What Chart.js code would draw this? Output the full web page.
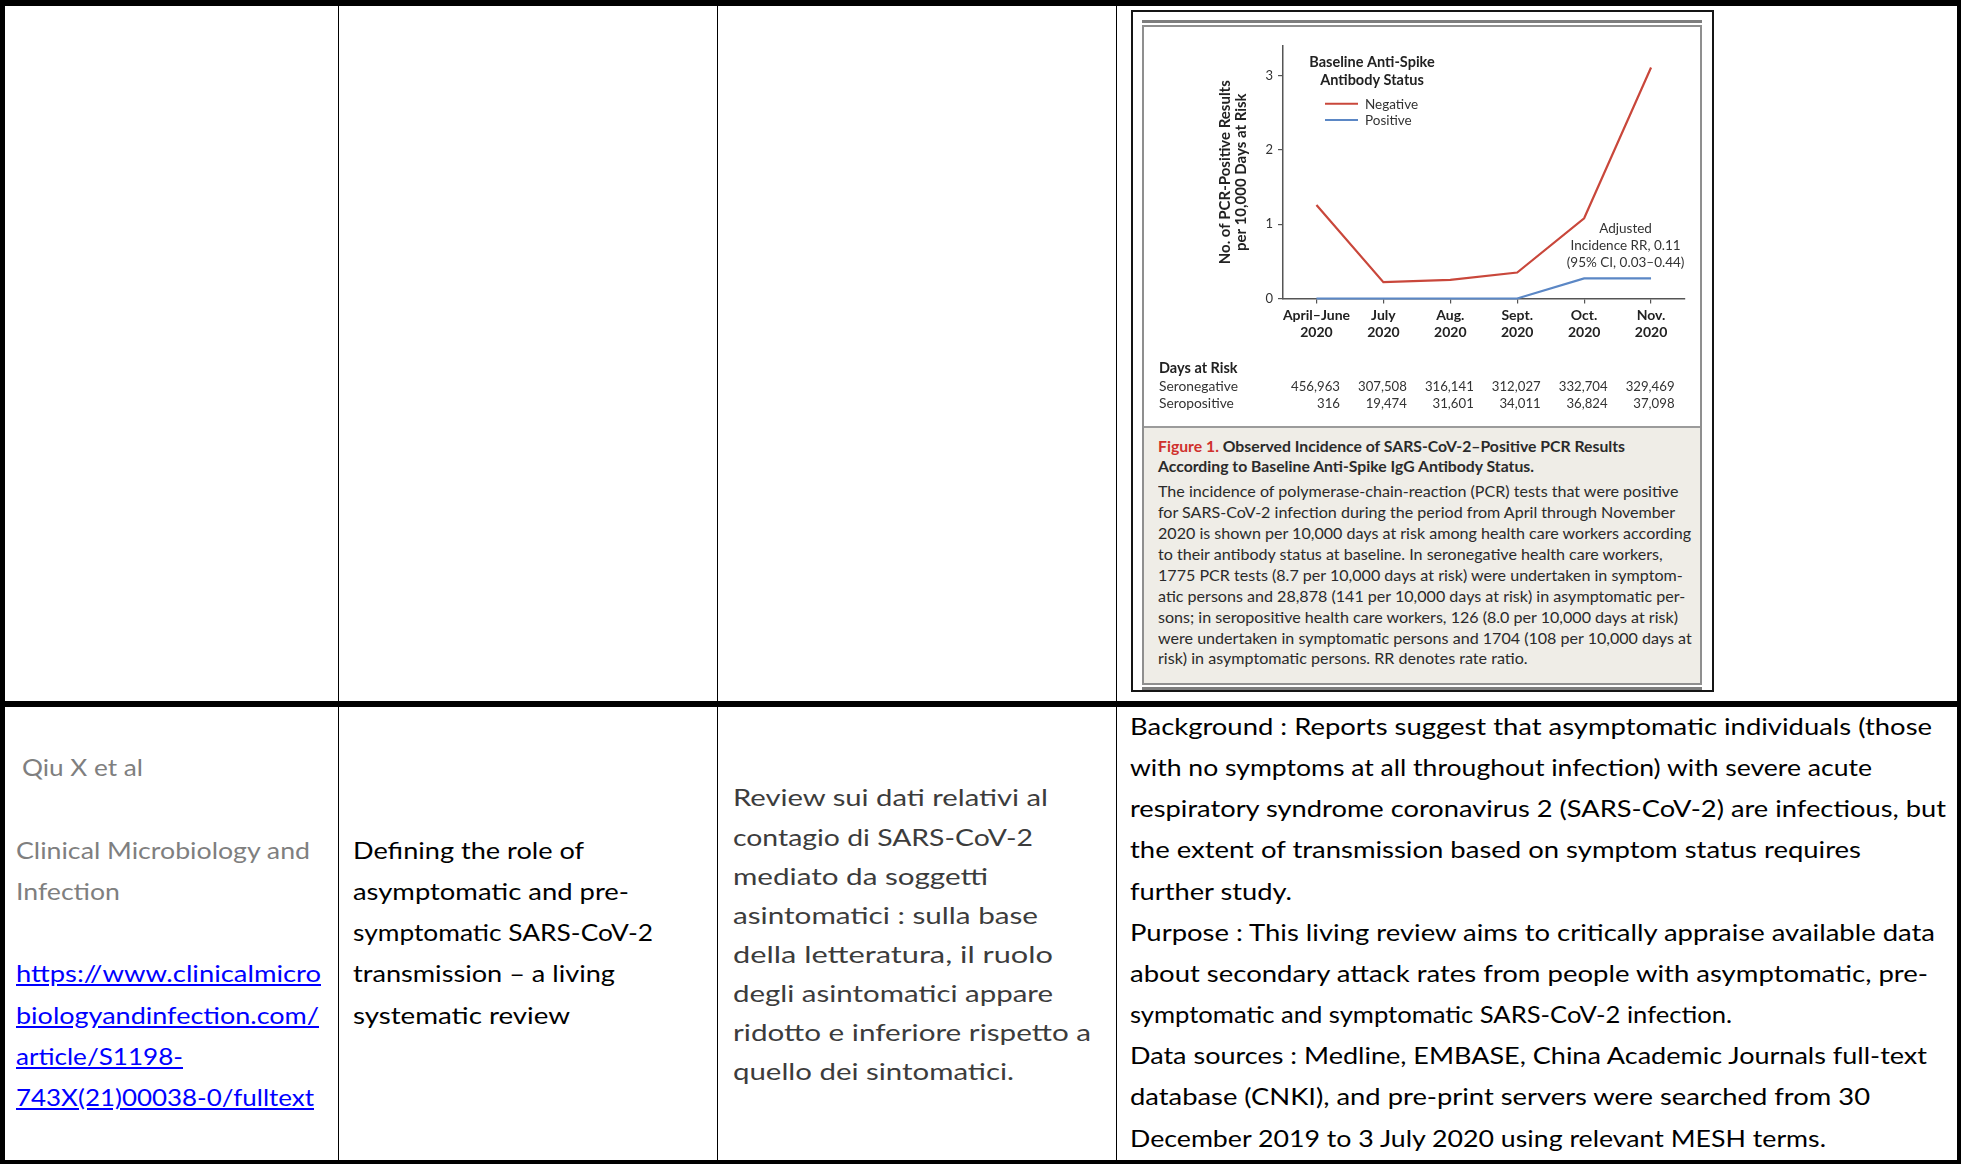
<!DOCTYPE html>
<html lang="en">
<head>
<meta charset="utf-8">
<title>Observed Incidence of SARS-CoV-2–Positive PCR Results</title>
<script src="https://cdn.jsdelivr.net/npm/chart.js@4.4.1/dist/chart.umd.min.js"></script>
<style>
  html, body { margin: 0; padding: 0; background: #fff; }
  body { position: relative; width: 1961px; height: 1164px; overflow: hidden; font-family: Lato, "Open Sans", sans-serif; }
  .bar { position: absolute; background: #000; }
  .ln { position: absolute; white-space: nowrap; }
  .ln > span { display: inline-block; transform-origin: 0 50%; }
  .tbl { font-size: 24px; }
  .cap { font-size: 15px; color: #2a2a2a; }
  #frame { position: absolute; left: 1131px; top: 10px; width: 583px; height: 682px; box-sizing: border-box; border: 2px solid #151515; }
  #topRule, #bottomRule { position: absolute; left: 1142px; width: 560px; background: #7d7d7d; }
  #topRule { top: 20px; height: 3px; }
  #bottomRule { top: 687px; height: 2.5px; }
  #panel { position: absolute; left: 1142px; top: 25px; width: 560px; height: 660px; box-sizing: border-box; border: 2px solid #8f8f8f; }
  #captionBg { position: absolute; left: 1144px; top: 426px; width: 556px; height: 257px; box-sizing: border-box; background: #efede7; border-top: 2px solid #9b9b9b; }
  #chart { position: absolute; left: 1144px; top: 27px; }
</style>
</head>
<body>

<!-- table grid -->
<div class="bar" style="left:0;top:0;width:1961px;height:6px"></div>
<div class="bar" style="left:0;top:0;width:5px;height:1164px"></div>
<div class="bar" style="left:1957px;top:0;width:4px;height:1164px"></div>
<div class="bar" style="left:0;top:1160px;width:1961px;height:4px"></div>
<div class="bar" style="left:0;top:701px;width:1961px;height:6px"></div>
<div class="bar" style="left:338px;top:0;width:1.3px;height:1164px"></div>
<div class="bar" style="left:717px;top:0;width:1.3px;height:1164px"></div>
<div class="bar" style="left:1116px;top:0;width:1.3px;height:1164px"></div>

<!-- figure panel -->
<div id="frame"></div>
<div id="topRule"></div>
<div id="panel"></div>
<div id="captionBg"></div>
<div id="bottomRule"></div>
<canvas id="chart" width="556" height="400"></canvas>

<script>
// ---- chart data ----
const months = [['April–June', '2020'], ['July', '2020'], ['Aug.', '2020'], ['Sept.', '2020'], ['Oct.', '2020'], ['Nov.', '2020']];
const negativeRate = [1.26, 0.22, 0.25, 0.35, 1.08, 3.11];
const positiveRate = [0, 0, 0, 0, 0.27, 0.27];
const seriesNames = ['Negative', 'Positive'];
const seronegativeDays = ['456,963', '307,508', '316,141', '312,027', '332,704', '329,469'];
const seropositiveDays = ['316', '19,474', '31,601', '34,011', '36,824', '37,098'];
const yTickValues = [0, 1, 2, 3];
const yAxisTitle = ['No. of PCR-Positive Results', 'per 10,000 Days at Risk'];
const legendTitle = ['Baseline Anti-Spike', 'Antibody Status'];
const rrNote = ['Adjusted', 'Incidence RR, 0.11', '(95% CI, 0.03–0.44)'];

const RED = '#c9473b';
const BLUE = '#5b87c5';
const INK = '#222';

// legend drawn inside the plot, upper left
const statusLegend = {
  id: 'statusLegend',
  afterDatasetsDraw(chart) {
    const { ctx, chartArea: a } = chart;
    ctx.save();
    ctx.fillStyle = INK;
    ctx.textAlign = 'center';
    ctx.textBaseline = 'middle';
    ctx.font = 'bold 14.5px Lato';
    legendTitle.forEach((t, i) => ctx.fillText(t, a.left + 89, a.top + 16 + i * 18));
    chart.data.datasets.forEach((ds, i) => {
      const y = a.top + 57.7 + i * 16.3;
      ctx.strokeStyle = ds.borderColor;
      ctx.lineWidth = 2;
      ctx.beginPath();
      ctx.moveTo(a.left + 42, y);
      ctx.lineTo(a.left + 75, y);
      ctx.stroke();
      ctx.font = '13.5px Lato';
      ctx.textAlign = 'left';
      ctx.fillStyle = '#333';
      ctx.fillText(ds.label, a.left + 82, y + 0.5);
    });
    // rate-ratio note above the seropositive line
    ctx.font = '13.5px Lato';
    ctx.textAlign = 'center';
    ctx.fillStyle = '#333';
    const nx = (chart.scales.x.getPixelForValue(4) + chart.scales.x.getPixelForValue(5)) / 2 + 8;
    rrNote.forEach((t, i) => ctx.fillText(t, nx, a.top + 183 + i * 17));
    ctx.restore();
  }
};

// days-at-risk table aligned to the month positions
const daysTable = {
  id: 'daysTable',
  afterDraw(chart) {
    const { ctx, chartArea: a, scales: { x } } = chart;
    ctx.save();
    ctx.textBaseline = 'middle';
    ctx.fillStyle = INK;
    ctx.textAlign = 'left';
    ctx.font = 'bold 14.5px Lato';
    ctx.fillText('Days at Risk', a.left - 124, a.bottom + 69.5);
    ctx.font = '13.8px Lato';
    ctx.fillStyle = '#333';
    ctx.fillText('Seronegative', a.left - 124, a.bottom + 88.5);
    ctx.fillText('Seropositive', a.left - 124, a.bottom + 105.5);
    ctx.textAlign = 'right';
    ctx.font = '13.2px Lato';
    months.forEach((m, i) => {
      const px = x.getPixelForValue(i) + 23.5;
      ctx.fillText(seronegativeDays[i], px, a.bottom + 88.5);
      ctx.fillText(seropositiveDays[i], px, a.bottom + 105.5);
    });
    ctx.restore();
  }
};

Chart.defaults.font.family = 'Lato';

new Chart(document.getElementById('chart'), {
  type: 'line',
  data: {
    labels: months,
    datasets: [
      { label: seriesNames[0], data: negativeRate, borderColor: RED, borderWidth: 2.2, pointRadius: 0, tension: 0, clip: 4 },
      { label: seriesNames[1], data: positiveRate, borderColor: BLUE, borderWidth: 2.2, pointRadius: 0, tension: 0, clip: 4 }
    ]
  },
  options: {
    responsive: false,
    animation: false,
    devicePixelRatio: 1,
    layout: { padding: { left: 0, right: 15.5, top: 19, bottom: 78.5 } },
    plugins: { legend: { display: false }, tooltip: { enabled: false } },
    scales: {
      x: {
        type: 'category',
        offset: true,
        border: { display: true, color: '#555', width: 1.5 },
        grid: { display: true, drawOnChartArea: false, drawTicks: true, tickLength: 5, color: '#555', lineWidth: 1.2 },
        ticks: {
          autoSkip: false, maxRotation: 0, padding: 3, color: INK,
          font: { family: 'Lato', size: 14, weight: 'bold', lineHeight: 17 / 14 }
        },
        afterFit(s) { s.height = 50; }
      },
      y: {
        min: 0,
        max: 3.4,
        border: { display: true, color: '#555', width: 1.5 },
        grid: { display: true, drawOnChartArea: false, drawTicks: true, tickLength: 5, color: '#555', lineWidth: 1.2 },
        ticks: {
          stepSize: 1, includeBounds: false, padding: 5, color: '#333',
          font: { family: 'Lato', size: 13 },
          callback: (v) => yTickValues.includes(v) ? String(v) : ''
        },
        title: {
          display: true,
          text: yAxisTitle,
          color: INK,
          font: { family: 'Lato', size: 15, weight: 'bold', lineHeight: 16 / 15 },
          padding: { top: 73, bottom: 0 }
        },
        afterFit(s) { s.width = 139; }
      }
    }
  },
  plugins: [statusLegend, daysTable]
});

// ---- caption and table text ----
function addLine(text, x, cy, lh, cls, style) {
  const d = document.createElement('div');
  d.className = 'ln ' + (cls || '');
  d.style.left = x + 'px';
  d.style.top = (cy - lh / 2) + 'px';
  d.style.height = lh + 'px';
  d.style.lineHeight = lh + 'px';
  const s = document.createElement('span');
  if (Array.isArray(text)) {
    text.forEach(part => {
      const p = document.createElement('span');
      p.textContent = part.t;
      if (part.style) Object.assign(p.style, part.style);
      s.appendChild(p);
    });
  } else {
    s.textContent = text;
  }
  if (style) Object.assign(s.style, style);
  d.appendChild(s);
  document.body.appendChild(d);
  return s;
}
function fitGroup(spans, ref, target) {
  const k = target / ref.getBoundingClientRect().width;
  spans.forEach(s => { s.style.transform = 'scaleX(' + k + ')'; });
}
function fitTo(span, x, right) {
  const k = (right - x) / span.getBoundingClientRect().width;
  span.style.transform = 'scaleX(' + k + ')';
}
// lines: [text, rightEdge]; empty text leaves a blank line
function column(lines, x, cy0, step, style) {
  lines.forEach(([t, r], i) => {
    if (!t) return;
    const s = addLine(t, x, cy0 + i * step, step, 'tbl', style);
    fitTo(s, x, r);
  });
}

// caption
const capTitle = [
  addLine([{ t: 'Figure 1.', style: { color: '#d0312d' } }, { t: ' Observed Incidence of SARS-CoV-2–Positive PCR Results' }], 1157.5, 446, 21, 'cap', { fontWeight: 'bold' }),
  addLine('According to Baseline Anti-Spike IgG Antibody Status.', 1157.5, 466.7, 21, 'cap', { fontWeight: 'bold' })
];
const capLines = [
  'The incidence of polymerase-chain-reaction (PCR) tests that were positive',
  'for SARS-CoV-2 infection during the period from April through November',
  '2020 is shown per 10,000 days at risk among health care workers according',
  'to their antibody status at baseline. In seronegative health care workers,',
  '1775 PCR tests (8.7 per 10,000 days at risk) were undertaken in symptom-',
  'atic persons and 28,878 (141 per 10,000 days at risk) in asymptomatic per-',
  'sons; in seropositive health care workers, 126 (8.0 per 10,000 days at risk)',
  'were undertaken in symptomatic persons and 1704 (108 per 10,000 days at',
  'risk) in asymptomatic persons. RR denotes rate ratio.'
];
const capBody = capLines.map((t, i) => addLine(t, 1157.5, 491.7 + i * 20.9, 20.9, 'cap'));
fitGroup(capTitle, capTitle[0], 467);
fitGroup(capBody, capBody[2], 533);

// column 1: citation
const gray = { color: '#7f7f7f' };
const linkStyle = { color: '#0000ff', textDecoration: 'underline' };
column([['Qiu X et al', 143]], 22, 767, 41.2, gray);
column([['Clinical Microbiology and', 310], ['Infection', 120]], 16, 849.4, 41.2, gray);
column([
  ['https://www.clinicalmicro', 321],
  ['biologyandinfection.com/', 319],
  ['article/S1198-', 183],
  ['743X(21)00038-0/fulltext', 314]
], 16, 973, 41.2, linkStyle);

// column 2: title
column([
  ['Defining the role of', 584],
  ['asymptomatic and pre-', 629],
  ['symptomatic SARS-CoV-2', 653],
  ['transmission – a living', 615],
  ['systematic review', 570]
], 353, 849.4, 41.2, { color: '#000' });

// column 3: note
column([
  ['Review sui dati relativi al', 1048],
  ['contagio di SARS-CoV-2', 1033],
  ['mediato da soggetti', 988],
  ['asintomatici : sulla base', 1038],
  ['della letteratura, il ruolo', 1053],
  ['degli asintomatici appare', 1053],
  ['ridotto e inferiore rispetto a', 1091],
  ['quello dei sintomatici.', 1014]
], 733, 797, 39.1, { color: '#3c3c3c' });

// column 4: abstract
column([
  ['Background : Reports suggest that asymptomatic individuals (those', 1932],
  ['with no symptoms at all throughout infection) with severe acute', 1872],
  ['respiratory syndrome coronavirus 2 (SARS-CoV-2) are infectious, but', 1946],
  ['the extent of transmission based on symptom status requires', 1861],
  ['further study.', 1292],
  ['Purpose : This living review aims to critically appraise available data', 1935],
  ['about secondary attack rates from people with asymptomatic, pre-', 1928],
  ['symptomatic and symptomatic SARS-CoV-2 infection.', 1732],
  ['Data sources : Medline, EMBASE, China Academic Journals full-text', 1927],
  ['database (CNKI), and pre-print servers were searched from 30', 1870],
  ['December 2019 to 3 July 2020 using relevant MESH terms.', 1826]
], 1130, 725.5, 41.17, { color: '#000' });
</script>
</body>
</html>
